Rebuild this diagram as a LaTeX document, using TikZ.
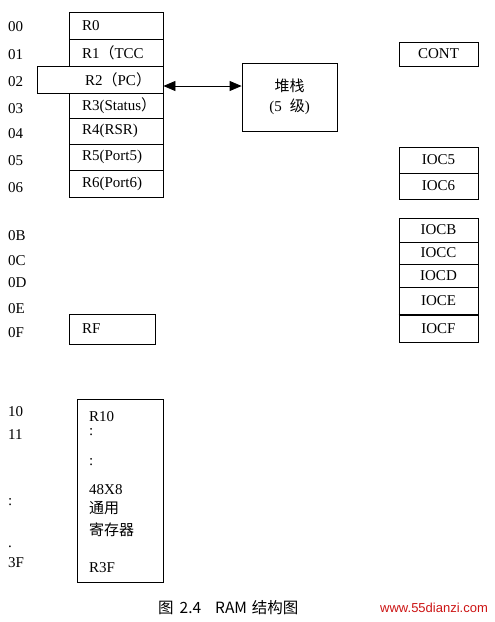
\documentclass[tikz,border=0pt]{standalone}
\usepackage{fontspec}
\setmainfont{Liberation Serif}
\newfontfamily\cjk{Noto Sans CJK SC}
\newfontfamily\wmfont{Liberation Sans}
\usetikzlibrary{arrows.meta}
\definecolor{wmred}{RGB}{204,20,20}
\begin{document}
\begin{tikzpicture}[x=1pt,y=-1pt]
\tikzstyle{every node}+=[inner sep=0pt,font=\fontsize{15}{20}\selectfont]
\tikzstyle{reg}=[draw,line width=0.8pt,text width=68pt,inner xsep=13pt,align=left]
\tikzstyle{ioc}=[draw,line width=0.8pt,minimum width=79pt,align=center]
\tikzstyle{addr}=[anchor=west]
\useasboundingbox (0,0) rectangle (495,622);
% address column
\foreach \y/\t [count=\i] in {27/00,55/01,82/02,109/03,134/04,161/05,188/06,
  236/0B,261/0C,283/0D,309/0E,333/0F,412/10,435/11,502/:,547/.,563/3F}
  \node[addr] (a\i) at (8,\y) {\t};
% special registers
\node[reg,minimum height=27pt] (r0) at (116,25.5) {R0};
\node[reg,minimum height=27pt] (r1) at (116,52.5) {R1{\cjk （}TCC};
\node[reg,minimum height=27pt,text width=102pt,inner xsep=12pt,align=right] (r2) at (100,79.5) {R2{\cjk （}PC{\cjk ）}};
\node[reg,minimum height=25pt] (r3) at (116,105.5) {R3(Status{\cjk ）}};
\node[reg,minimum height=26pt] (r4) at (116,131) {R4(RSR)};
\node[reg,minimum height=26pt] (r5) at (116,157) {R5(Port5)};
\node[reg,minimum height=27pt] (r6) at (116,183.5) {R6(Port6)};
\node[reg,text width=60pt,minimum height=30pt] (rf) at (112,329) {RF};
% stack
\node[draw,line width=0.8pt,minimum width=95pt,minimum height=68pt,align=center] (stack) at (289.5,97) {{\cjk 堆栈}\\(5\hspace{8pt}{\cjk 级})};
\draw[line width=0.8pt,{Triangle[length=12pt,width=10pt]}-{Triangle[length=12pt,width=10pt]}]
  ([yshift=-6.5pt]r2.east) -- ([yshift=-6.5pt]r2.east -| stack.west);
% control registers
\node[ioc,minimum height=24pt] (cont) at (438.5,54) {CONT};
\node[ioc,minimum height=26pt] (ioc5) at (438.5,160) {IOC5};
\node[ioc,minimum height=26pt] (ioc6) at (438.5,186) {IOC6};
\node[ioc,minimum height=24pt] (iocb) at (438.5,230) {IOCB};
\node[ioc,minimum height=22pt] (iocc) at (438.5,253) {IOCC};
\node[ioc,minimum height=23pt] (iocd) at (438.5,275.5) {IOCD};
\node[ioc,minimum height=28pt] (ioce) at (438.5,301) {IOCE};
\node[ioc,minimum height=27pt] (iocf) at (438.5,328.5) {IOCF};
\draw[line width=2pt] (ioce.south west) -- (ioce.south east);
% general purpose registers
\node[draw,line width=0.8pt,minimum width=86pt,minimum height=183pt] (gpr) at (120,490.5) {};
\foreach \y/\t [count=\i] in {417/R10,432/:,462/:,490/48X8,508/{\cjk 通用},530/{\cjk 寄存器},568/R3F}
  \node[anchor=west] (g\i) at (89,\y) {\t};
% caption
\node[font=\cjk\fontsize{15.5}{18}\selectfont,anchor=west] (cap) at (158,608) {图\hspace{6pt}2.4\hspace{14pt}RAM\hspace{5pt}结构图};
\node[font=\wmfont\fontsize{13}{16}\selectfont,text=wmred,anchor=west] (wm) at (380,608) {www.55dianzi.com};
\end{tikzpicture}
\end{document}
